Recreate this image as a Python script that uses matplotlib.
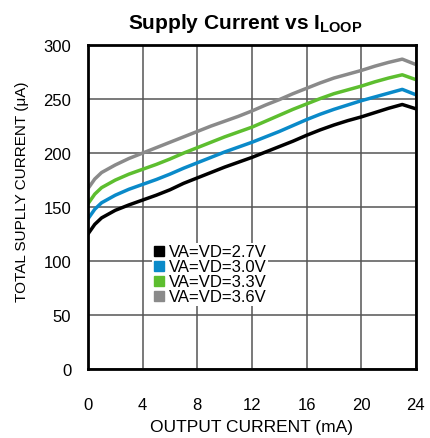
import matplotlib
matplotlib.use('Agg')
import matplotlib.pyplot as plt
from matplotlib.lines import Line2D

plt.rcParams['font.family'] = ['Liberation Sans', 'DejaVu Sans']
plt.rcParams['mathtext.fontset'] = 'custom'
plt.rcParams['mathtext.rm'] = 'Liberation Sans'
plt.rcParams['mathtext.bf'] = 'Liberation Sans:bold'

#Data (output current in mA, supply current in uA)
i_out = [0, 0.5, 1, 2, 3, 4, 5, 6, 7, 8, 9, 10, 11, 12, 13, 14, 15, 16,
         17, 18, 19, 20, 21, 22, 23, 24]
va_27 = [125, 134, 140, 147, 152, 156.5, 161, 166, 172, 177, 182, 187, 191.5,
         196, 201, 206, 211, 216.5, 221.5, 226, 230, 233.5, 237.5, 241.5, 245, 241]
va_30 = [139, 148, 154, 161, 166.5, 171, 175.5, 180.5, 186, 191, 196, 201, 205.5,
         210, 215, 220, 225.5, 231, 236, 240.5, 244.5, 248.5, 252, 255.5, 259, 254]
va_33 = [153, 162, 168, 175, 180.5, 185, 189.5, 194.5, 200, 205, 210, 215, 219.5,
         224, 229.5, 235, 240.5, 245.5, 250.5, 255, 258.5, 262, 266, 269.5, 272.5, 268]
va_36 = [167, 176, 182, 189, 195, 200, 205, 210, 215, 220, 225, 229.5, 234,
         239, 244.5, 249.5, 255, 260, 265, 269.5, 273, 276.5, 280.5, 284, 287, 282]

series = [va_27, va_30, va_33, va_36]
labels = ['VA=VD=2.7V', 'VA=VD=3.0V', 'VA=VD=3.3V', 'VA=VD=3.6V']
colors = ['#000000', '#0A8AC9', '#5DBE2F', '#8A8A8A']

fig = plt.figure(figsize=(4.31, 4.39), dpi=100)
ax = fig.add_axes([0.204, 0.157, 0.761, 0.738])

for y, c in zip(series, colors):
    ax.plot(i_out, y, color=c, lw=2.5)

ax.set_xlim(0, 24)
ax.set_ylim(0, 300)
ax.set_xticks(range(0, 25, 4))
ax.set_yticks(range(0, 301, 50))
ax.grid(True, color='#555555', lw=1.1)
ax.set_axisbelow(True)
ax.tick_params(axis='x', length=0, labelsize=12, pad=20)
ax.tick_params(axis='y', length=0, labelsize=12, pad=12)
for s in ax.spines.values():
    s.set_linewidth(2)

ax.set_xlabel('OUTPUT CURRENT (mA)', fontsize=12.5, labelpad=5)
ax.set_ylabel('TOTAL SUPLLY CURRENT (μA)', fontsize=11)
ax.yaxis.set_label_coords(-0.18, 0.55)
ax.set_title(r'Supply Current vs I$_\mathbf{LOOP}$', fontsize=15,
             fontweight='bold', pad=12, x=0.48)

#Square markers as legend keys
handles = [Line2D([], [], ls='', marker='s', markersize=7.5, color=c) for c in colors]
leg = ax.legend(handles, labels, loc='upper left', bbox_to_anchor=(0.195, 0.39),
                frameon=True, fontsize=12, handlelength=0.6, handletextpad=0.3,
                labelspacing=0.0, borderpad=0.1, borderaxespad=0, fancybox=False)
leg.get_frame().set_linewidth(0)
leg.get_frame().set_alpha(1)

fig.savefig('out.png', dpi=100)
